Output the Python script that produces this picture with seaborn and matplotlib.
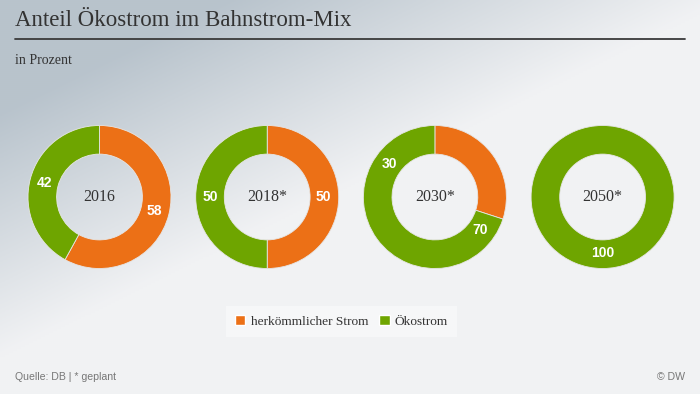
import numpy as np
import seaborn as sns
import matplotlib.pyplot as plt
from matplotlib.patches import Patch
from matplotlib.lines import Line2D

# data
years = ['2016', '2018*', '2030*', '2050*']
herkoemmlich = [58, 50, 30, 0]
oeko = [42, 50, 70, 100]
series_names = ['herkömmlicher Strom', 'Ökostrom']
mirror_labels = [False, False, True, False]   # 2030 labels sit on the opposite side

sns.set_theme(style='white')
plt.rcParams['font.family'] = ['DejaVu Sans']
colors = sns.color_palette(['#EC7016', '#6EA500'])

W, H = 700, 394
fig = plt.figure(figsize=(7, 3.94), dpi=100)

# gradient background
bg = fig.add_axes([0, 0, 1, 1], zorder=-10)
xx, yy = np.meshgrid(np.linspace(0, 1, 350), np.linspace(0, 1, 197))
t = np.clip(xx * 1.4 + yy * 1.6 - 0.45, 0, 1)
dark = np.array([184, 195, 204]) / 255
light = np.array([241, 242, 244]) / 255
img = dark[None, None, :] * (1 - t[..., None]) + light[None, None, :] * t[..., None]
bg.imshow(img, aspect='auto', extent=[0, 1, 0, 1], origin='upper')
bg.axis('off')

# header
fig.text(15 / W, 1 - 21 / H, 'Anteil Ökostrom im Bahnstrom-Mix', family='Liberation Serif',
         fontsize=16.5, color='#333333', va='center', ha='left')
fig.add_artist(Line2D([15 / W, 685 / W], [1 - 38.5 / H] * 2, color='#3a3a3a', lw=1.3))
fig.text(15 / W, 1 - 61 / H, 'in Prozent', family='Liberation Serif', fontsize=10,
         color='#333333', va='center', ha='left')

# donuts
R = 71.5
lim = 1.05
cy = 197
for i, year in enumerate(years):
    cx = 99.5 + i * 167.7
    size = 2 * R * lim
    ax = fig.add_axes([(cx - R * lim) / W, (H - cy - R * lim) / H, size / W, size / H])
    vals = [herkoemmlich[i], oeko[i]]
    cols = [colors[0], colors[1]]
    keep = [j for j, v in enumerate(vals) if v > 0]
    ax.pie([vals[j] for j in keep], colors=[cols[j] for j in keep], startangle=90,
           counterclock=False,
           wedgeprops=dict(width=0.4, edgecolor='#e6e6e6', linewidth=0.6))
    ax.set_xlim(-lim, lim)
    ax.set_ylim(-lim, lim)
    ax.set_aspect('equal')
    ax.text(0, 0, year, family='Liberation Serif', fontsize=11.5, color='#333333',
            ha='center', va='center')
    start = 0
    total = sum(vals)
    for j, v in enumerate(vals):
        if v == 0:
            continue
        mid = (start + v / 2) / total * 360
        start += v
        if mirror_labels[i]:
            mid = 360 - mid
        a = np.deg2rad(90 - mid)
        ax.text(0.79 * np.cos(a), 0.79 * np.sin(a), str(v), color='white',
                fontsize=10, fontweight='bold', family='Liberation Sans',
                ha='center', va='center')

# legend
handles = [Patch(facecolor=colors[0]), Patch(facecolor=colors[1])]
leg = fig.legend(handles, series_names, loc='center', bbox_to_anchor=(341.5 / W, 1 - 321.5 / H),
                 ncol=2, frameon=True, fancybox=False, handlelength=0.8, handleheight=0.8,
                 handletextpad=0.4, columnspacing=0.8, borderpad=0.65,
                 prop={'family': 'Liberation Serif', 'size': 9.6})
leg.get_frame().set_facecolor('#f8f9fa')
leg.get_frame().set_edgecolor('none')
for txt in leg.get_texts():
    txt.set_color('#333333')

# footer
fig.text(15 / W, 1 - 377 / H, 'Quelle: DB | * geplant', family='Liberation Sans',
         fontsize=7.6, color='#777777', va='center', ha='left')
fig.text(685 / W, 1 - 377 / H, '© DW', family='Liberation Sans',
         fontsize=7.6, color='#777777', va='center', ha='right')

fig.savefig('out.png', dpi=100)
